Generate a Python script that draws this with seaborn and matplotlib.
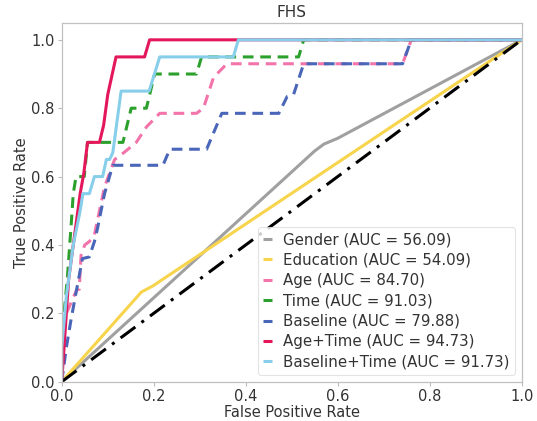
import matplotlib
matplotlib.use("Agg")
import matplotlib.pyplot as plt
from matplotlib.lines import Line2D
import seaborn as sns
import numpy as np

# ---- data ----
labels = ["Gender", "Education", "Age", "Time", "Baseline", "Age+Time", "Baseline+Time"]
aucs = [56.09, 54.09, 84.70, 91.03, 79.88, 94.73, 91.73]

gender_fpr = [0.0, 0.55, 0.57, 0.60, 1.0]
gender_tpr = [0.0, 0.675, 0.695, 0.712, 1.0]

education_fpr = [0.0, 0.173, 0.198, 1.0]
education_tpr = [0.0, 0.262, 0.280, 1.0]

age_fpr = [0.0, 0.0, 0.01, 0.033, 0.038, 0.042, 0.05, 0.06, 0.071, 0.093, 0.115, 0.135,
           0.162, 0.184, 0.213, 0.293, 0.308, 0.33, 0.359, 0.741, 0.76, 1.0]
age_tpr = [0.0, 0.10, 0.20, 0.27, 0.27, 0.37, 0.40, 0.41, 0.43, 0.57, 0.65, 0.67,
           0.70, 0.745, 0.785, 0.785, 0.80, 0.89, 0.93, 0.93, 1.0, 1.0]

time_fpr = [0.0, 0.0, 0.005, 0.012, 0.02, 0.025, 0.031, 0.049, 0.056, 0.133, 0.151, 0.184,
            0.202, 0.293, 0.304, 0.515, 0.526, 1.0]
time_tpr = [0.0, 0.10, 0.20, 0.30, 0.45, 0.55, 0.60, 0.60, 0.70, 0.70, 0.80, 0.80,
            0.90, 0.90, 0.95, 0.95, 1.0, 1.0]

baseline_fpr = [0.0, 0.005, 0.01, 0.02, 0.031, 0.045, 0.06, 0.071, 0.078, 0.093, 0.111,
                0.22, 0.235, 0.315, 0.348, 0.472, 0.49, 0.504, 0.526, 0.741, 0.76, 1.0]
baseline_tpr = [0.0, 0.05, 0.10, 0.18, 0.26, 0.36, 0.365, 0.41, 0.45, 0.55, 0.633,
                0.633, 0.68, 0.68, 0.785, 0.785, 0.834, 0.84, 0.93, 0.93, 1.0, 1.0]

agetime_fpr = [0.0, 0.005, 0.015, 0.027, 0.04, 0.048, 0.056, 0.082, 0.091, 0.10, 0.118,
               0.18, 0.191, 1.0]
agetime_tpr = [0.0, 0.10, 0.30, 0.42, 0.55, 0.61, 0.70, 0.70, 0.75, 0.84, 0.95,
               0.95, 1.0, 1.0]

basetime_fpr = [0.0, 0.0, 0.01, 0.025, 0.04, 0.046, 0.06, 0.071, 0.089, 0.097, 0.104,
                0.111, 0.129, 0.19, 0.213, 0.373, 0.384, 1.0]
basetime_tpr = [0.0, 0.10, 0.25, 0.40, 0.50, 0.55, 0.55, 0.60, 0.60, 0.65, 0.65,
                0.67, 0.85, 0.85, 0.95, 0.95, 1.0, 1.0]

chance = [0.0, 1.0]

# ---- style ----
sns.set_theme(style="ticks")
plt.rcParams["font.family"] = ["DejaVu Sans"]
text_color = "#333333"
plt.rcParams.update({
    "text.color": text_color,
    "axes.labelcolor": text_color,
    "xtick.color": "#bbbbbb",
    "ytick.color": "#bbbbbb",
    "xtick.labelcolor": text_color,
    "ytick.labelcolor": text_color,
    "axes.edgecolor": "#c0c0c0",
})

fig = plt.figure(figsize=(5.37, 4.21), dpi=100)
ax = fig.add_axes([0.115, 0.0934, 0.8565, 0.8526])

colors = ["#a0a0a0", "#f7d44c", "#f274aa", "#2ca02c", "#4a66b8", "#e4175b", "#87ceeb"]
styles = ["-", "-", (0, (3.5, 2.2)), (0, (3.5, 2.2)), (0, (3.5, 2.2)), "-", "-"]
curves = [(gender_fpr, gender_tpr), (education_fpr, education_tpr), (age_fpr, age_tpr),
          (time_fpr, time_tpr), (baseline_fpr, baseline_tpr),
          (agetime_fpr, agetime_tpr), (basetime_fpr, basetime_tpr)]

for (fx, fy), col, ls in zip(curves, colors, styles):
    sns.lineplot(x=fx, y=fy, ax=ax, color=col, linestyle=ls, linewidth=2.2,
                 sort=False, estimator=None, legend=False)

sns.lineplot(x=chance, y=chance, ax=ax, color="black", linewidth=2.2,
             linestyle=(0, (6, 2.5, 1, 2.5)), sort=False, estimator=None, legend=False)

ax.set_xlim(0, 1.0)
ax.set_ylim(0, 1.05)
ax.set_xticks([0.0, 0.2, 0.4, 0.6, 0.8, 1.0])
ax.set_yticks([0.0, 0.2, 0.4, 0.6, 0.8, 1.0])
ax.tick_params(labelsize=10.5, length=3, width=0.8, pad=2)
ax.set_xlabel("False Positive Rate", fontsize=10.5, labelpad=1)
ax.set_ylabel("True Positive Rate", fontsize=10.5, labelpad=2)
ax.set_title("FHS", fontsize=11, pad=4)
for s in ax.spines.values():
    s.set_linewidth(0.9)

handles = [Line2D([], [], color=c, linestyle="-", linewidth=2.2, solid_capstyle="butt")
           for c in colors]
leg_labels = [f"{lab} (AUC = {auc:.2f})" for lab, auc in zip(labels, aucs)]
leg = ax.legend(handles, leg_labels, loc="lower right", fontsize=10.8,
                handlelength=0.6, handletextpad=0.75,
                frameon=True, borderpad=0.35, labelspacing=0.36, borderaxespad=0.45)
leg.get_frame().set_edgecolor("#dddddd")
leg.get_frame().set_linewidth(0.8)

fig.savefig("out.png", dpi=100)
